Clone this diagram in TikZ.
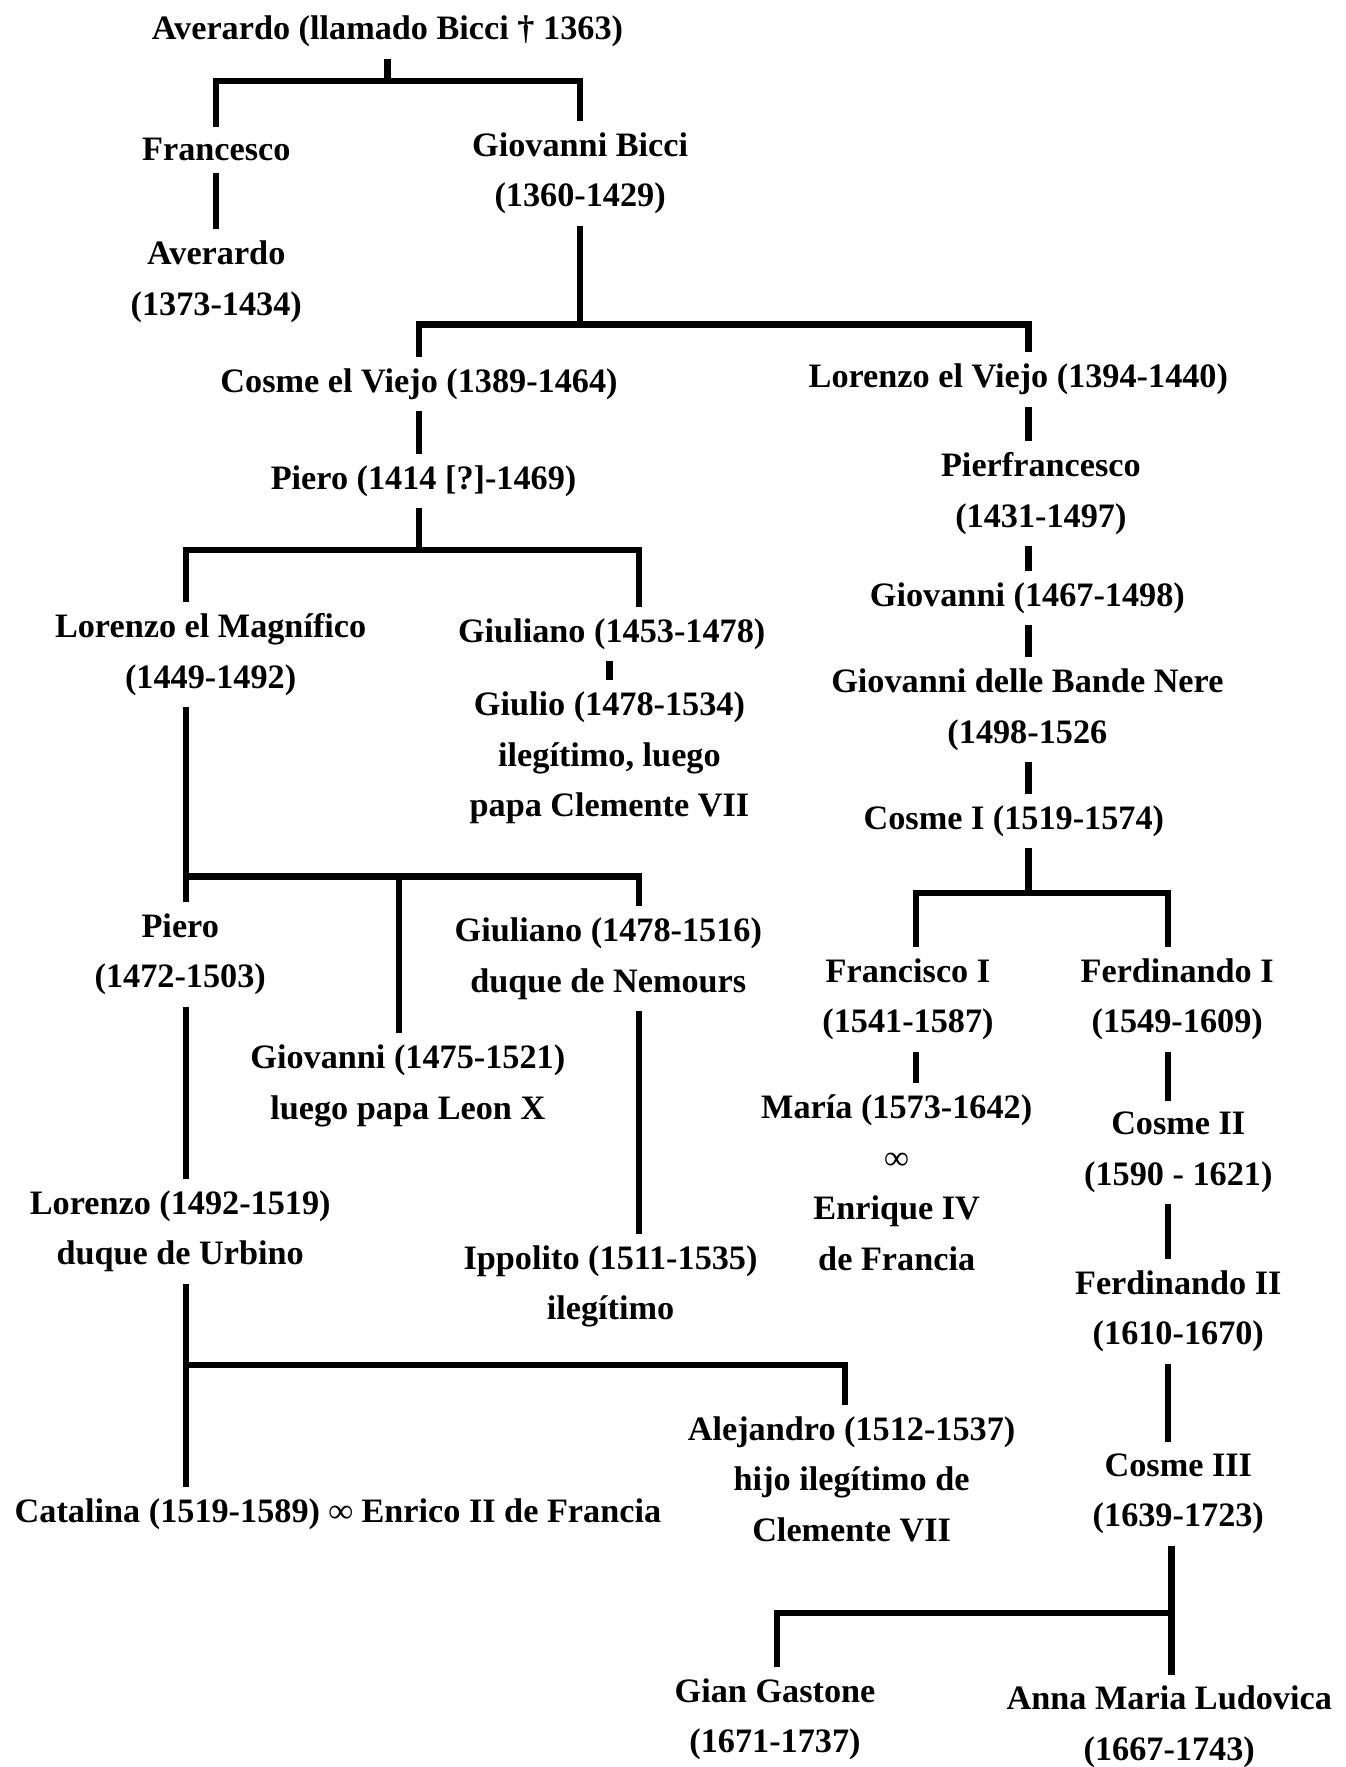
\documentclass[tikz,border=0pt]{standalone}
\usepackage{fontspec}
\setmainfont{Liberation Serif}
\tikzset{
  person/.style={align=center, inner xsep=2pt, inner ysep=0.2cm},
  link/.style={line width=3.2pt}
}
\begin{document}
\begin{tikzpicture}[x=0.02cm, y=-0.02cm, font=\bfseries\fontsize{17.3}{25.5}\selectfont]
      \useasboundingbox (0,0) rectangle (1194,1568.6);
      \fill[white] (0,0) rectangle (1194,1568.6);
      \node[person] (avA) at (344,28) {Averardo (llamado Bicci † 1363)};
      \node[person] (fra) at (192,133) {Francesco};
      \node[person] (gbi) at (515,154) {Giovanni Bicci\\(1360-1429)};
      \node[person] (ave) at (192,250) {Averardo\\(1373-1434)};
      \node[person] (cev) at (372,341) {Cosme el Viejo (1389-1464)};
      \node[person] (lev) at (904,337) {Lorenzo el Viejo (1394-1440)};
      \node[person] (pie) at (376,427) {Piero (1414 [?]-1469)};
      \node[person] (pfr) at (924,438) {Pierfrancesco\\(1431-1497)};
      \node[person] (gio) at (912,531) {Giovanni (1467-1498)};
      \node[person] (gbn) at (912,630) {Giovanni delle Bande Nere\\(1498-1526};
      \node[person] (co1) at (900,729) {Cosme I (1519-1574)};
      \node[person] (lmag) at (187,581) {Lorenzo el Magnífico\\(1449-1492)};
      \node[person] (giu) at (543,563) {Giuliano (1453-1478)};
      \node[person] (gul) at (541,673) {Giulio (1478-1534)\\ilegítimo, luego\\papa Clemente VII};
      \node[person] (pie2) at (160,847) {Piero\\(1472-1503)};
      \node[person] (giu2) at (540,851) {Giuliano (1478-1516)\\duque de Nemours};
      \node[person] (gvn) at (362,964) {Giovanni (1475-1521)\\luego papa Leon X};
      \node[person] (lur) at (160,1093) {Lorenzo (1492-1519)\\duque de Urbino};
      \node[person] (ipp) at (542,1142) {Ippolito (1511-1535)\\ilegítimo};
      \node[person] (cat) at (300,1344) {Catalina (1519-1589) ∞ Enrico II de Francia};
      \node[person] (ale) at (756,1313) {Alejandro (1512-1537)\\hijo ilegítimo de\\Clemente VII};
      \node[person] (frI) at (806,887) {Francisco I\\(1541-1587)};
      \node[person] (feI) at (1045,887) {Ferdinando I\\(1549-1609)};
      \node[person] (mar) at (796,1050) {María (1573-1642)\\∞\\Enrique IV\\de Francia};
      \node[person] (co2) at (1046,1023) {Cosme II\\(1590 - 1621)};
      \node[person] (fe2) at (1046,1164) {Ferdinando II\\(1610-1670)};
      \node[person] (co3) at (1046,1326) {Cosme III\\(1639-1723)};
      \node[person] (gga) at (688,1526) {Gian Gastone\\(1671-1737)};
      \node[person] (ama) at (1038,1533) {Anna Maria Ludovica\\(1667-1743)};
      \coordinate (j0) at (344,72);
      \coordinate (j1) at (515,288);
      \coordinate (colR) at (913,0);
      \coordinate (colL) at (165,0);
      \coordinate (colF) at (1037,0);
      \coordinate (j2) at (372,488);
      \coordinate (k2) at (567,488);
      \coordinate (j3) at (165,778);
      \coordinate (m3) at (354,778);
      \coordinate (k3) at (567,778);
      \coordinate (j4) at (165,1212);
      \coordinate (k4) at (750,1212);
      \coordinate (j5) at (913,793);
      \coordinate (k5a) at (813,793);
      \coordinate (k5b) at (1037,793);
      \coordinate (j6) at (1040,1432);
      \coordinate (k6) at (690,1432);
      \begin{scope}[link]
        \draw (avA.south -| j0) -- (j0);
        \draw (fra.north) |- (j0) -| (gbi.north);
        \draw (fra.south) -- (ave.north);
        \draw (gbi.south) -- (j1);
        \draw (cev.north) |- (j1) -| (lev.north -| colR);
        \draw (lev.south -| colR) -- (pfr.north -| colR);
        \draw (pfr.south -| colR) -- (gio.north -| colR);
        \draw (gio.south -| colR) -- (gbn.north -| colR);
        \draw (gbn.south -| colR) -- (co1.north -| colR);
        \draw (co1.south -| colR) -- (j5);
        \draw (frI.north -| k5a) |- (k5b) -- (feI.north -| k5b);
        \draw (frI.south -| k5a) -- (mar.north -| k5a);
        \draw (feI.south -| colF) -- (co2.north -| colF);
        \draw (co2.south -| colF) -- (fe2.north -| colF);
        \draw (fe2.south -| colF) -- (co3.north -| colF);
        \draw (co3.south -| j6) -- (ama.north -| j6);
        \draw (j6) -- (k6) -- (gga.north -| k6);
        \draw (cev.south) -- (pie.north -| cev);
        \draw (pie.south -| j2) -- (j2);
        \draw (lmag.north -| colL) |- (k2) -- (giu.north -| k2);
        \draw (giu.south -| gul) -- (gul.north);
        \draw (lmag.south -| colL) -- (pie2.north -| colL);
        \draw (j3) -- (k3) -- (giu2.north -| k3);
        \draw (m3) -- (gvn.north -| m3);
        \draw (pie2.south -| colL) -- (lur.north -| colL);
        \draw (giu2.south -| k3) -- (ipp.north -| k3);
        \draw (lur.south -| colL) -- (cat.north -| colL);
        \draw (j4) -- (k4) -- (ale.north -| k4);
      \end{scope}
    \end{tikzpicture}
\end{document}
